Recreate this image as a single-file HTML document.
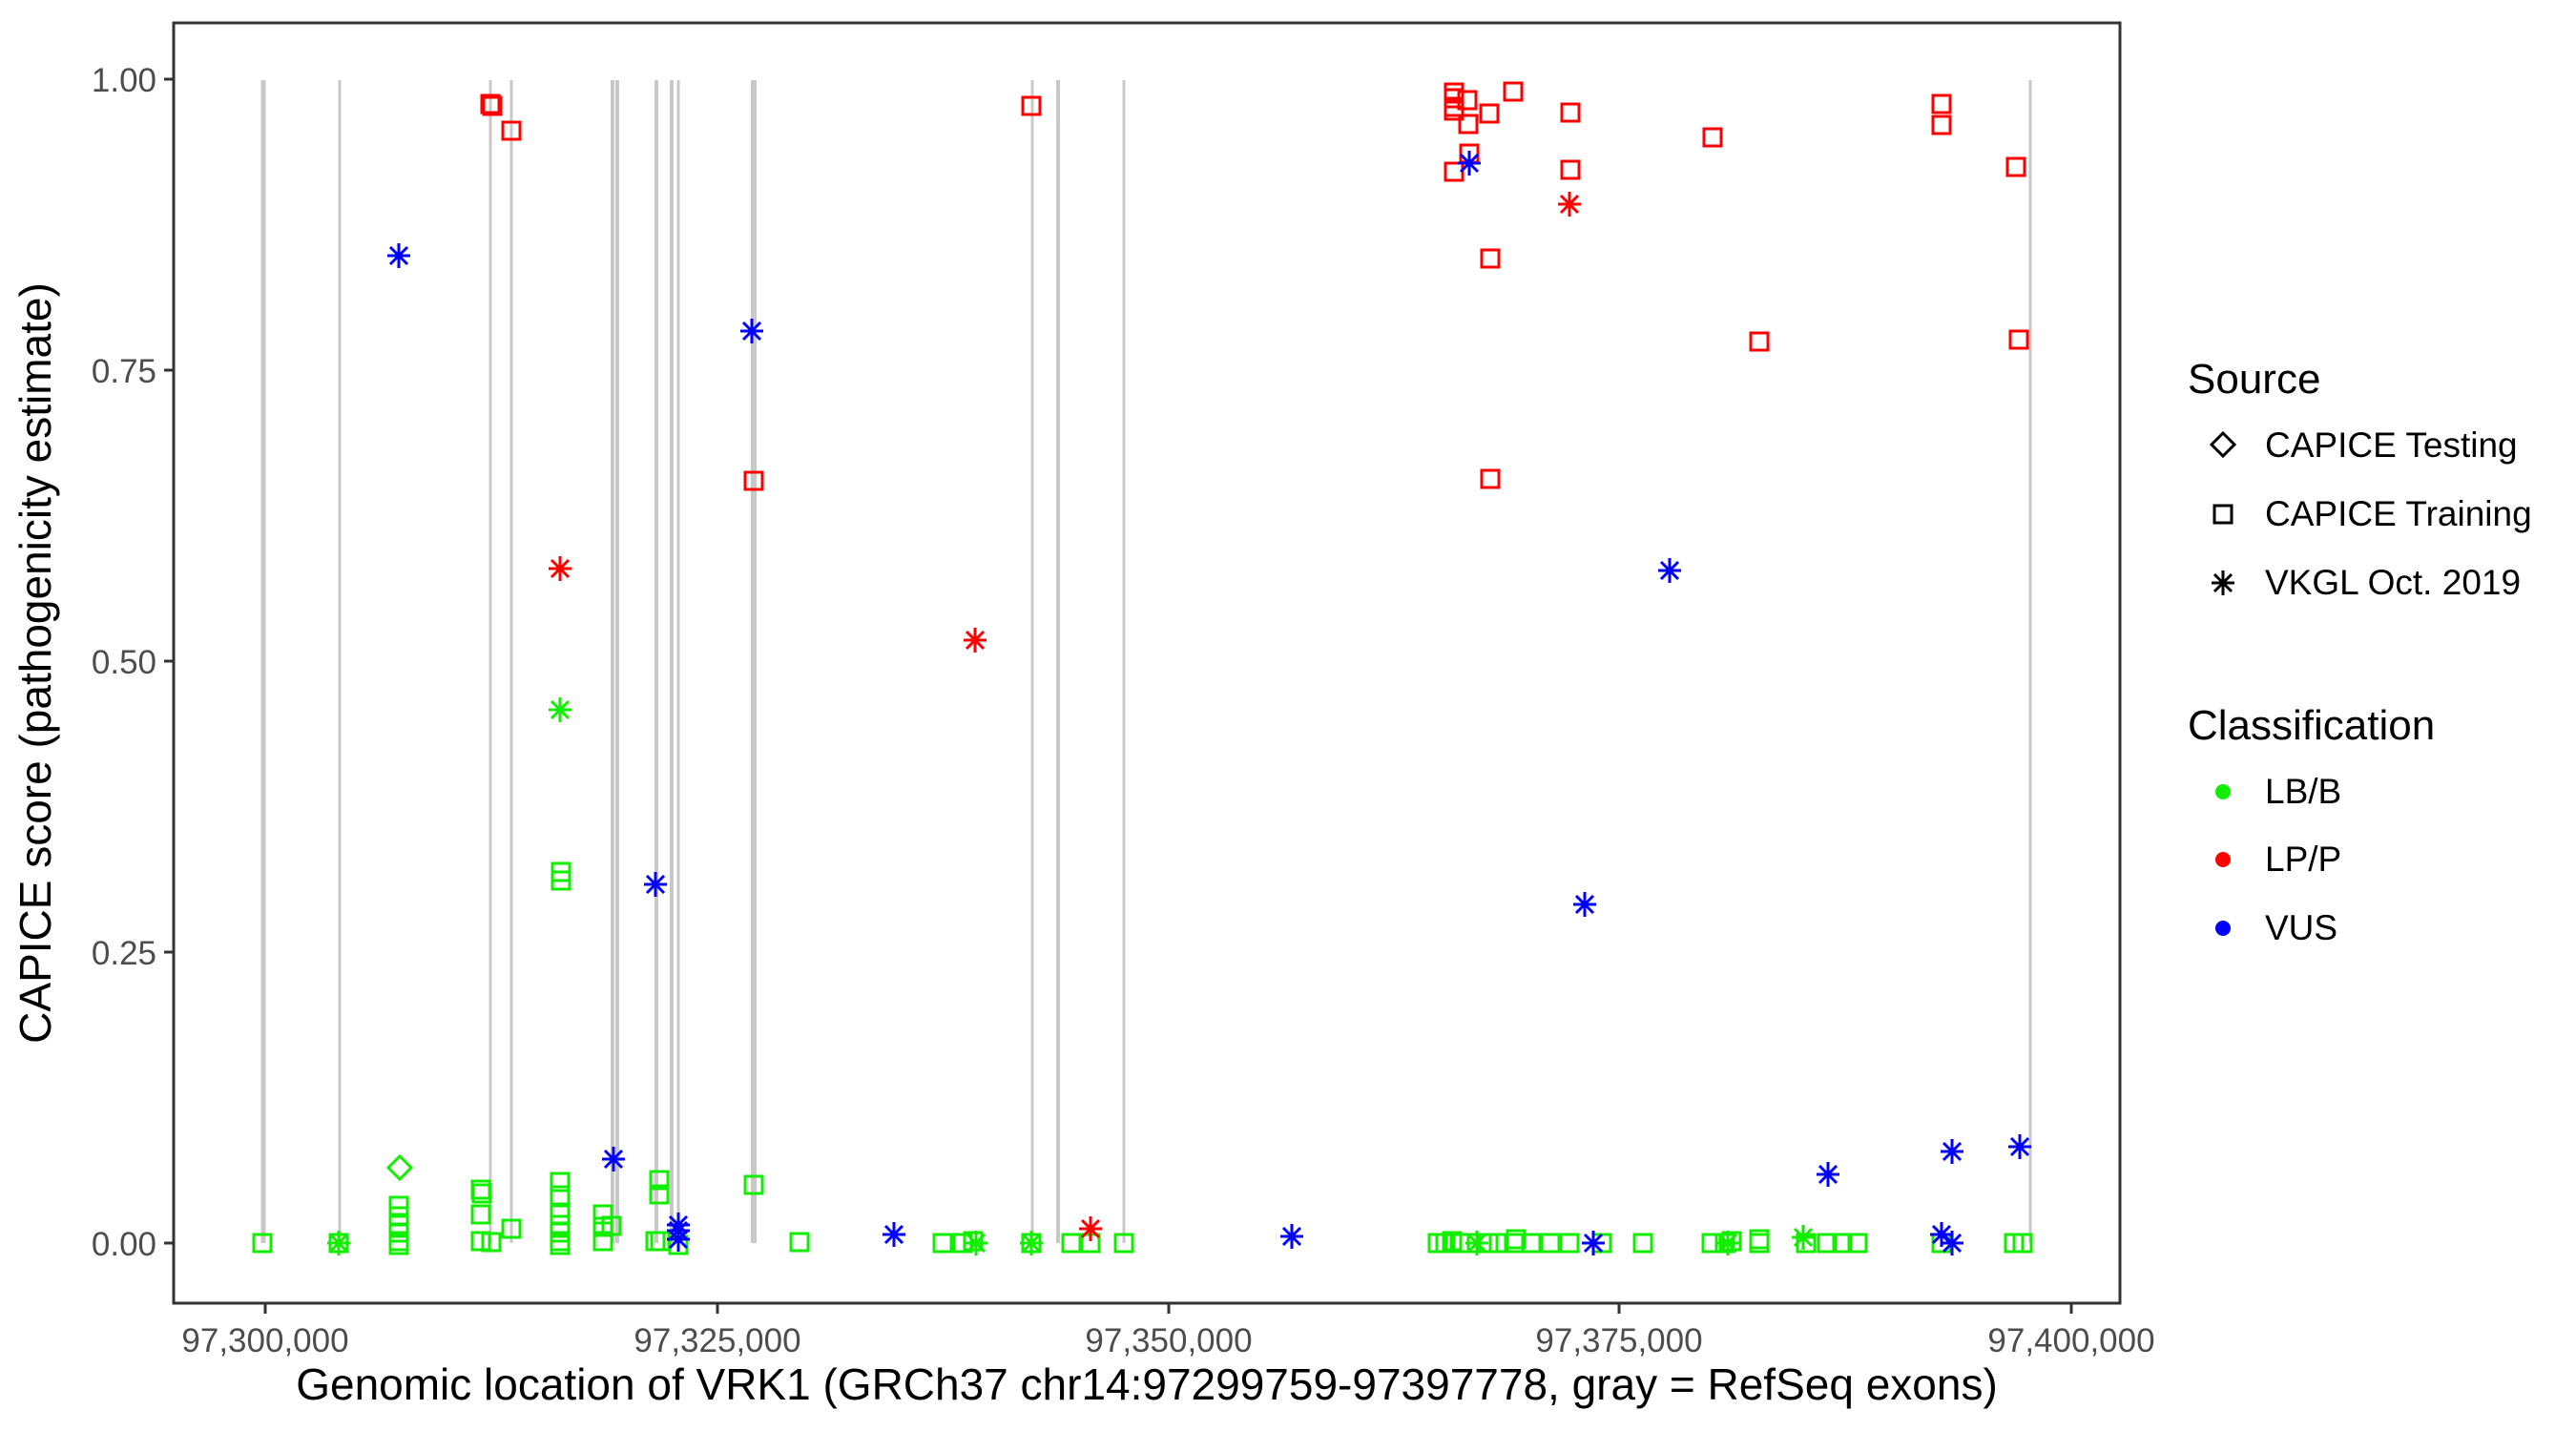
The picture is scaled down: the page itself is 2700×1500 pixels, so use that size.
<!DOCTYPE html>
<html><head><meta charset="utf-8"><style>
html,body{margin:0;padding:0;background:#fff;}
svg{display:block;font-family:"Liberation Sans",Arial,sans-serif;}
</style></head><body>
<svg width="2700" height="1500" viewBox="0 0 2700 1500" xmlns="http://www.w3.org/2000/svg">
<defs>
<g id="sq"><rect x="-9" y="-9" width="18" height="18" fill="none" stroke="currentColor" stroke-width="3"/></g>
<g id="st" stroke="currentColor" stroke-width="3"><line x1="-12" y1="0" x2="12" y2="0"/><line x1="0" y1="-13" x2="0" y2="13"/><line x1="-9" y1="-9" x2="9" y2="9"/><line x1="-9" y1="9" x2="9" y2="-9"/></g>
<g id="di"><polygon points="0,-12 12,0 0,12 -12,0" fill="none" stroke="currentColor" stroke-width="3"/></g>
</defs>
<rect x="0" y="0" width="2700" height="1500" fill="#fff"/>
<g stroke="#c8c8c8" stroke-width="4">
<line x1="276" y1="84" x2="276" y2="1303" stroke-width="5"/>
<line x1="356" y1="84" x2="356" y2="1303" stroke-width="3"/>
<line x1="514" y1="84" x2="514" y2="1303" stroke-width="3"/>
<line x1="536" y1="84" x2="536" y2="1303" stroke-width="3"/>
<line x1="642" y1="84" x2="642" y2="1303"/>
<line x1="647" y1="84" x2="647" y2="1303"/>
<line x1="688" y1="84" x2="688" y2="1303"/>
<line x1="704" y1="84" x2="704" y2="1303"/>
<line x1="711" y1="84" x2="711" y2="1303" stroke-width="3"/>
<line x1="790" y1="84" x2="790" y2="1303" stroke-width="6"/>
<line x1="1082" y1="84" x2="1082" y2="1303" stroke-width="3"/>
<line x1="1109" y1="84" x2="1109" y2="1303"/>
<line x1="1178" y1="84" x2="1178" y2="1303" stroke-width="3"/>
<line x1="2128" y1="84" x2="2128" y2="1303" stroke-width="3"/>
</g>
<g color="#11ee00">
<use href="#sq" x="275" y="1303"/><use href="#sq" x="355" y="1303"/><use href="#st" x="355" y="1303"/>
<use href="#di" x="419" y="1224"/>
<use href="#sq" x="418" y="1264"/><use href="#sq" x="418" y="1275"/><use href="#sq" x="418" y="1284"/><use href="#sq" x="418" y="1292"/><use href="#sq" x="418" y="1301"/><use href="#sq" x="418" y="1305"/>
<use href="#sq" x="504" y="1247"/><use href="#sq" x="505" y="1251"/><use href="#sq" x="504" y="1273"/><use href="#sq" x="504" y="1301"/><use href="#sq" x="515" y="1302"/><use href="#sq" x="536" y="1288"/>
<use href="#st" x="587" y="744"/><use href="#sq" x="588" y="914"/><use href="#sq" x="588" y="923"/>
<use href="#sq" x="587" y="1239"/><use href="#sq" x="587" y="1253"/><use href="#sq" x="587" y="1273"/><use href="#sq" x="587" y="1284"/><use href="#sq" x="587" y="1292"/><use href="#sq" x="587" y="1301"/><use href="#sq" x="587" y="1305"/>
<use href="#sq" x="632" y="1273"/><use href="#sq" x="632" y="1286"/><use href="#sq" x="632" y="1301"/><use href="#sq" x="641" y="1285"/>
<use href="#sq" x="691" y="1237"/><use href="#sq" x="691" y="1252"/><use href="#sq" x="687" y="1301"/><use href="#sq" x="692" y="1301"/><use href="#sq" x="711" y="1305"/>
<use href="#sq" x="790" y="1242"/><use href="#sq" x="838" y="1302"/>
<use href="#sq" x="988" y="1303"/><use href="#sq" x="1009" y="1303"/><use href="#sq" x="1020" y="1301"/><use href="#st" x="1023" y="1303"/>
<use href="#sq" x="1081" y="1303"/><use href="#st" x="1081" y="1303"/><use href="#sq" x="1123" y="1303"/><use href="#sq" x="1143" y="1303"/><use href="#sq" x="1178" y="1303"/>
<use href="#sq" x="1507" y="1303"/><use href="#sq" x="1515" y="1303"/><use href="#sq" x="1522" y="1301"/><use href="#sq" x="1530" y="1303"/><use href="#sq" x="1540" y="1303"/><use href="#st" x="1548" y="1303"/><use href="#sq" x="1560" y="1303"/><use href="#sq" x="1571" y="1303"/>
<use href="#sq" x="1587" y="1303"/><use href="#sq" x="1589" y="1299"/><use href="#sq" x="1605" y="1303"/><use href="#sq" x="1625" y="1303"/><use href="#sq" x="1645" y="1303"/><use href="#sq" x="1679" y="1303"/><use href="#sq" x="1722" y="1303"/>
<use href="#sq" x="1794" y="1303"/><use href="#sq" x="1808" y="1303"/><use href="#st" x="1811" y="1303"/><use href="#sq" x="1815" y="1301"/>
<use href="#sq" x="1844" y="1299"/><use href="#sq" x="1844" y="1303"/>
<use href="#st" x="1890" y="1297"/><use href="#sq" x="1893" y="1303"/><use href="#sq" x="1915" y="1303"/><use href="#sq" x="1931" y="1303"/><use href="#sq" x="1947" y="1303"/>
<use href="#sq" x="2035" y="1303"/><use href="#sq" x="2111" y="1303"/><use href="#sq" x="2120" y="1303"/>
</g>
<g color="#ff0000">
<use href="#sq" x="514" y="109"/><use href="#sq" x="516" y="111"/><use href="#sq" x="536" y="137"/>
<use href="#sq" x="790" y="504"/><use href="#st" x="587" y="596"/>
<use href="#sq" x="1081" y="111"/><use href="#st" x="1022" y="671"/><use href="#st" x="1143" y="1288"/>
<use href="#sq" x="1524" y="97"/><use href="#sq" x="1524" y="103"/><use href="#sq" x="1524" y="112"/><use href="#sq" x="1524" y="116"/>
<use href="#sq" x="1538" y="105"/><use href="#sq" x="1561" y="119"/><use href="#sq" x="1539" y="130"/><use href="#sq" x="1540" y="161"/>
<use href="#sq" x="1524" y="180"/><use href="#sq" x="1562" y="271"/><use href="#sq" x="1562" y="502"/><use href="#sq" x="1586" y="96"/>
<use href="#sq" x="1646" y="118"/><use href="#sq" x="1646" y="178"/><use href="#st" x="1645" y="214"/>
<use href="#sq" x="1795" y="144"/><use href="#sq" x="2035" y="109"/><use href="#sq" x="2035" y="131"/><use href="#sq" x="2113" y="175"/>
<use href="#sq" x="1844" y="358"/><use href="#sq" x="2116" y="356"/>
</g>
<g color="#0000ff">
<use href="#st" x="418" y="268"/><use href="#st" x="788" y="347"/><use href="#st" x="687" y="927"/><use href="#st" x="643" y="1215"/>
<use href="#st" x="711" y="1284"/><use href="#st" x="711" y="1290"/><use href="#st" x="711" y="1299"/>
<use href="#st" x="1540" y="171"/><use href="#st" x="1750" y="598"/><use href="#st" x="1661" y="948"/>
<use href="#st" x="937" y="1294"/><use href="#st" x="1354" y="1296"/><use href="#st" x="1670" y="1303"/>
<use href="#st" x="1916" y="1231"/><use href="#st" x="2046" y="1207"/><use href="#st" x="2117" y="1202"/>
<use href="#st" x="2035" y="1294"/><use href="#st" x="2046" y="1303"/>
</g>
<rect x="182" y="24" width="2040" height="1342" fill="none" stroke="#333" stroke-width="3"/>
<g stroke="#333" stroke-width="3">
<line x1="172" y1="1303" x2="182" y2="1303"/><line x1="172" y1="998" x2="182" y2="998"/><line x1="172" y1="693" x2="182" y2="693"/><line x1="172" y1="388" x2="182" y2="388"/><line x1="172" y1="83" x2="182" y2="83"/>
<line x1="278" y1="1366" x2="278" y2="1377"/><line x1="752" y1="1366" x2="752" y2="1377"/><line x1="1225" y1="1366" x2="1225" y2="1377"/><line x1="1697" y1="1366" x2="1697" y2="1377"/><line x1="2171" y1="1366" x2="2171" y2="1377"/>
</g>
<g font-size="35" fill="#4d4d4d" text-anchor="end">
<text x="164" y="1316">0.00</text><text x="164" y="1011">0.25</text><text x="164" y="706">0.50</text><text x="164" y="401">0.75</text><text x="164" y="96">1.00</text>
</g>
<g font-size="35" fill="#4d4d4d" text-anchor="middle">
<text x="278" y="1417">97,300,000</text><text x="752" y="1417">97,325,000</text><text x="1225" y="1417">97,350,000</text><text x="1697" y="1417">97,375,000</text><text x="2171" y="1417">97,400,000</text>
</g>
<text x="1202" y="1467" font-size="46" text-anchor="middle" fill="#000">Genomic location of VRK1 (GRCh37 chr14:97299759-97397778, gray = RefSeq exons)</text>
<text transform="translate(53,695) rotate(-90)" font-size="46" text-anchor="middle" fill="#000">CAPICE score (pathogenicity estimate)</text>
<text x="2293" y="412" font-size="44" fill="#000">Source</text>
<g color="#000"><use href="#di" x="2330" y="466"/><use href="#sq" x="2330" y="539"/><use href="#st" x="2330" y="611"/></g>
<g font-size="37" fill="#000">
<text x="2374" y="479">CAPICE Testing</text><text x="2374" y="551">CAPICE Training</text><text x="2374" y="623">VKGL Oct. 2019</text>
</g>
<text x="2293" y="775" font-size="44" fill="#000">Classification</text>
<circle cx="2330" cy="830" r="8" fill="#11ee00"/><circle cx="2330" cy="901" r="8" fill="#ff0000"/><circle cx="2330" cy="973" r="8" fill="#0000ff"/>
<g font-size="37" fill="#000">
<text x="2374" y="842">LB/B</text><text x="2374" y="913">LP/P</text><text x="2374" y="985">VUS</text>
</g>
</svg>
</body></html>
